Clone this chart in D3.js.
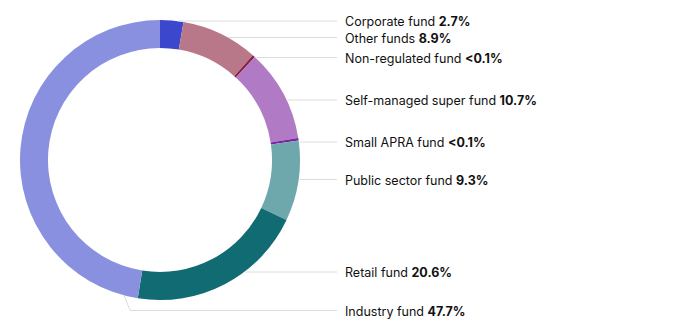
<!DOCTYPE html>
<html><head><meta charset="utf-8">
<script src="https://cdn.jsdelivr.net/npm/d3@7"></script>
<style>body{margin:0;background:#fff}svg{display:block}text{font-family:Inter,"Noto Sans",sans-serif;font-size:12.5px;fill:#111}</style>
</head><body>
<svg id="c" width="689" height="336"></svg>
<script>
const categories = ["Corporate fund","Other funds","Non-regulated fund","Self-managed super fund","Small APRA fund","Public sector fund","Retail fund","Industry fund"];
const values = [2.7, 8.9, 0.05, 10.7, 0.05, 9.3, 20.6, 47.7];
const valueLabels = ["2.7%","8.9%","<0.1%","10.7%","<0.1%","9.3%","20.6%","47.7%"];
const colors = ["#3b47cc","#b8788a","#8c1d3f","#b07bc4","#7b22a2","#6ea8ad","#116b73","#8a90e0"];
const labelY = [21, 37.5, 57.5, 100, 142, 179.5, 272, 310.5];
const minShown = 0.3; // smallest share drawn so tiny slices stay visible

const svg = d3.select("#c");
const cx = 160, cy = 160, rOuter = 140, rInner = 112;
const g = svg.append("g").attr("transform", `translate(${cx},${cy})`);
const pie = d3.pie().sort(null).value(d => Math.max(d, minShown));
const arcs = pie(values);
const arc = d3.arc().innerRadius(rInner).outerRadius(rOuter);

g.selectAll("path.slice").data(arcs).join("path")
  .attr("class","slice")
  .attr("d", arc)
  .attr("fill", (d,i) => colors[i]);

// leader lines
const xEnd = 337, xText = 345;
const lines = svg.append("g");
categories.forEach((c, i) => {
  const y = labelY[i];
  let pts;
  if (i === categories.length - 1) {
    const a = arcs[i - 1].endAngle + 0.1;
    const p = d3.pointRadial(a, rOuter);
    pts = [[cx + p[0], cy + p[1]], [cx + p[0] + 6, y], [xEnd, y]];
  } else {
    const dy = y - cy;
    const x0 = cx + Math.sqrt(Math.max(0, rOuter*rOuter - dy*dy)) + 1;
    pts = [[x0, y], [xEnd, y]];
  }
  lines.append("path").attr("d", d3.line()(pts))
    .attr("fill","none").attr("stroke","#dcdcdc").attr("stroke-width",1);
  const t = svg.append("text").attr("x", xText).attr("y", y).attr("dominant-baseline","central");
  t.append("tspan").text(c + " ");
  t.append("tspan").attr("font-weight","bold").text(valueLabels[i]);
});
</script>
</body></html>
